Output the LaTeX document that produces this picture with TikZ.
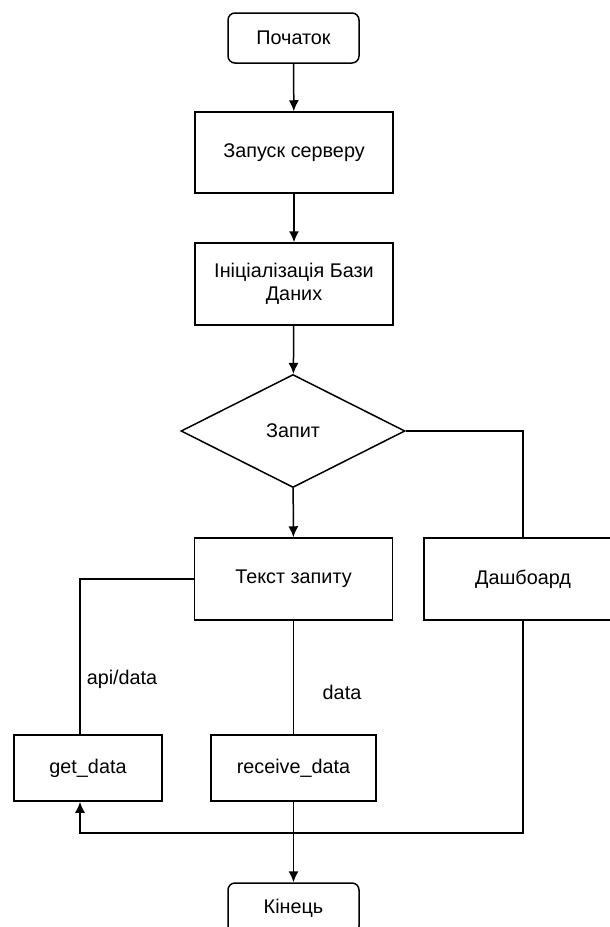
\documentclass[tikz,border=0pt]{standalone}
\usepackage{fontspec}
\setmainfont{Liberation Sans}
\usepackage{tikz}
\usetikzlibrary{arrows.meta,shapes.geometric}

\begin{document}
\begin{tikzpicture}[x=1pt,y=-1pt,
  font=\fontsize{19.8}{23}\selectfont,
  every path/.style={line width=1.5pt},
  box/.style={rectangle, draw, align=center, inner sep=0pt},
  term/.style={rectangle, rounded corners=7pt, draw, inner sep=0pt, minimum width=131pt, minimum height=50pt},
  cond/.style={diamond, draw, inner sep=0pt, aspect=2, minimum width=224pt, minimum height=113pt},
  lbl/.style={inner sep=0pt},
  arr/.style={>={Latex[length=11pt,width=10pt]},->}]
\useasboundingbox (0,0) rectangle (610,927);
%draw [help lines] grid (610,927);
\node[term] (start) at (293.5,38) {Початок};
\node[box, minimum width=198pt, minimum height=81pt] (server) at (294,152.5) {Запуск серверу};
\node[box, minimum width=198pt, minimum height=82pt] (db) at (294,284) {Ініціалізація Бази\\Даних};
\node[cond] (query) at (293,431) {Запит};
\node[box, minimum width=198pt, minimum height=82pt] (text) at (293.5,579) {Текст запиту};
\node[box, minimum width=198pt, minimum height=82pt] (dash) at (523,579) {Дашбоард};
\node[box, minimum width=148pt, minimum height=66pt] (get) at (88,768) {get\_data};
\node[box, minimum width=165pt, minimum height=66pt] (recv) at (293.5,768) {receive\_data};
\node[term] (end) at (293.5,908) {Кінець};
\node[lbl] (api) at (122,679) {api/data};
\node[lbl] (data) at (342,692) {data};
\coordinate (back) at (80,833);

\draw[arr] (start) -- (server);
\draw[arr] (server) -- (db);
\draw[arr] (db) -- (query);
\draw[arr] (query) -- (text);
\draw (query.east) -| (dash.north);
\draw (text.west) -| ([xshift=-8pt]get.north);
\draw (text) -- (recv);
\draw[arr] (dash.south) |- (back) -- ([xshift=-8pt]get.south);
\draw[arr] (recv) -- (end);

\end{tikzpicture}
\end{document}
